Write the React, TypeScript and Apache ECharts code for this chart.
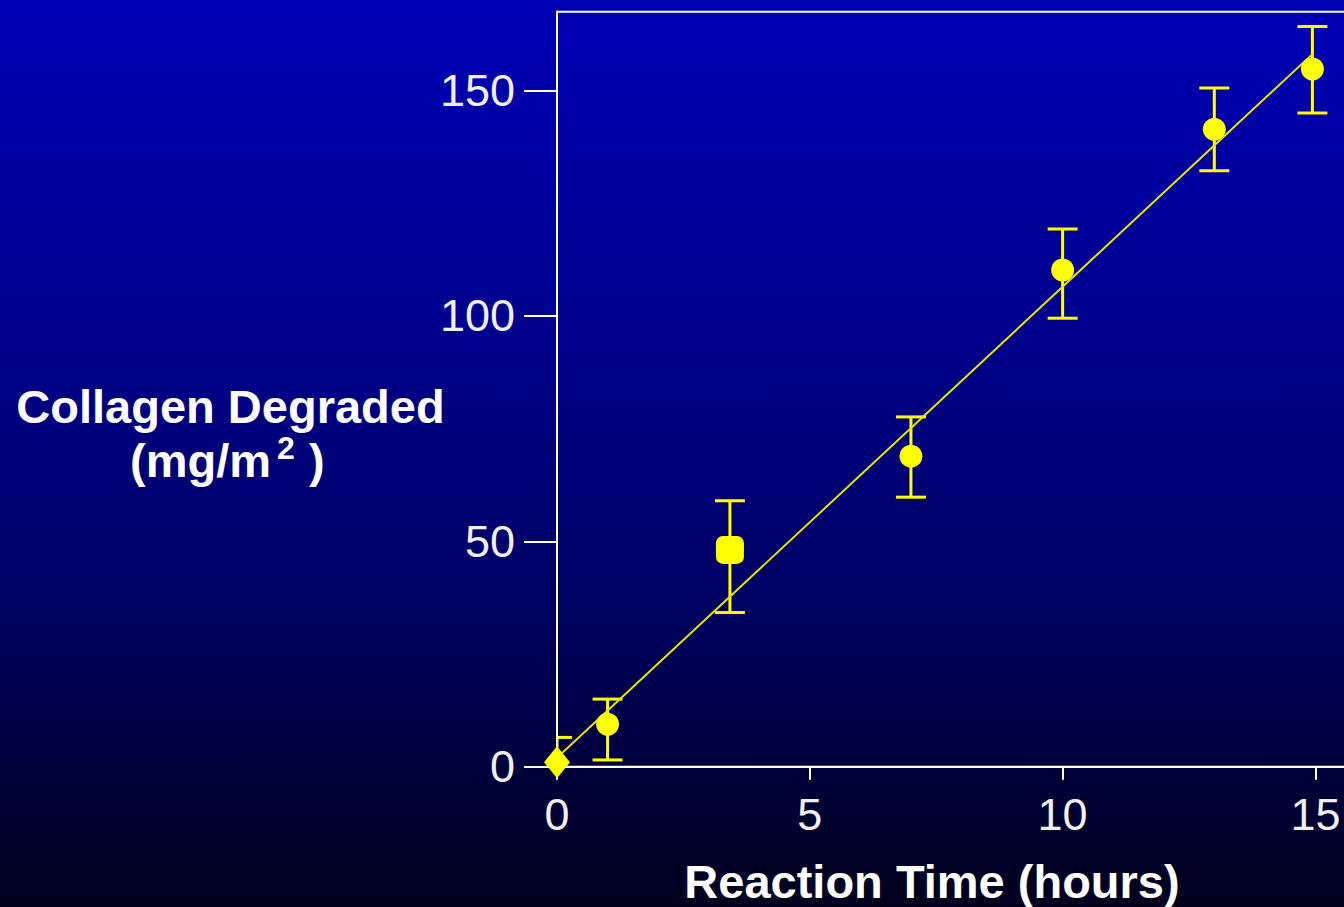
import React, { useEffect, useRef } from "react";
import * as echarts from "echarts";

// Data
const hours = [0, 1, 3.42, 7, 10, 13, 14.94];
const collagen = [1.0, 9.4, 48.1, 68.9, 110.2, 141.4, 154.8];
const errUpper = [6.5, 15.0, 59.0, 77.6, 119.3, 150.6, 164.2];
const errLower = [-4.5, 1.5, 34.2, 59.8, 99.5, 132.2, 145.0];
const fitHours = [0, 14.95];
const fitValues = [2.0, 158.2];
const xTickValues = [0, 5, 10, 15];
const yTickValues = [0, 50, 100, 150];

const markerShapes = ["diamond", "circle", "roundRect", "circle", "circle", "circle", "circle"];
const markerSizes: any[] = [[26, 32], 23, 28, 23, 23, 23, 23];

const FONT = "'Liberation Sans', Arial, Helvetica, sans-serif";
const YELLOW = "#ffff00";

export default function App() {
  const ref = useRef<HTMLDivElement>(null);

  useEffect(() => {
    if (!ref.current) return;
    const chart = echarts.init(ref.current, undefined, { renderer: "svg" });

    const scatterData = hours.map((h, i) => ({
      value: [h, collagen[i]],
      symbol: markerShapes[i],
      symbolSize: markerSizes[i],
    }));
    const errData = hours.map((h, i) => [h, errLower[i], errUpper[i]]);
    const fitData = fitHours.map((h, i) => [h, fitValues[i]]);

    const option: any = {
      animation: false,
      backgroundColor: {
        type: "linear",
        x: 0,
        y: 0,
        x2: 0,
        y2: 1,
        colorStops: [
          { offset: 0, color: "#0000b6" },
          { offset: 0.35, color: "#00008e" },
          { offset: 0.65, color: "#000064" },
          { offset: 1, color: "#00001c" },
        ],
      },
      grid: {
        left: 557,
        top: 11.7,
        width: 809,
        height: 755,
        show: true,
        borderColor: "#ffffff",
        borderWidth: 2,
        backgroundColor: "transparent",
      },
      xAxis: {
        type: "value",
        min: 0,
        max: 16,
        interval: 5,
        axisLine: { show: true, onZero: false, lineStyle: { color: "#ffffff", width: 2 } },
        axisTick: {
          show: true,
          inside: false,
          length: 13,
          customValues: xTickValues,
          lineStyle: { color: "#ffffff", width: 2 },
        },
        axisLabel: {
          margin: 25,
          color: "#f0f0f4",
          fontSize: 45,
          fontFamily: FONT,
          customValues: xTickValues,
        },
        splitLine: { show: false },
      },
      yAxis: {
        type: "value",
        min: 0,
        max: 167.5,
        interval: 50,
        axisLine: { show: true, onZero: false, lineStyle: { color: "#ffffff", width: 2 } },
        axisTick: {
          show: true,
          inside: false,
          length: 33,
          customValues: yTickValues,
          lineStyle: { color: "#ffffff", width: 2 },
        },
        axisLabel: {
          margin: 42,
          color: "#f0f0f4",
          fontSize: 45,
          fontFamily: FONT,
          customValues: yTickValues,
        },
        splitLine: { show: false },
      },
      series: [
        {
          type: "custom",
          clip: true,
          z: 3,
          data: errData,
          renderItem: (params: any, api: any) => {
            const x = api.value(0);
            const lo = api.value(1);
            const hi = api.value(2);
            const pHi = api.coord([x, hi]);
            const pLo = api.coord([x, lo]);
            const w = 15;
            const style = { stroke: YELLOW, lineWidth: 3 };
            return {
              type: "group",
              children: [
                { type: "line", shape: { x1: pHi[0], y1: pHi[1], x2: pLo[0], y2: pLo[1] }, style },
                { type: "line", shape: { x1: pHi[0] - w, y1: pHi[1], x2: pHi[0] + w, y2: pHi[1] }, style },
                { type: "line", shape: { x1: pLo[0] - w, y1: pLo[1], x2: pLo[0] + w, y2: pLo[1] }, style },
              ],
            };
          },
        },
        {
          type: "line",
          z: 4,
          data: fitData,
          symbol: "none",
          lineStyle: { color: "#e6e600", width: 2 },
        },
        {
          type: "scatter",
          z: 5,
          clip: false,
          data: scatterData,
          itemStyle: { color: YELLOW, opacity: 1 },
        },
      ],
      graphic: [
        {
          type: "text",
          x: 230.5,
          y: 406,
          style: {
            text: "Collagen Degraded",
            fill: "#ffffff",
            font: `bold 47px ${FONT}`,
            textAlign: "center",
            textVerticalAlign: "middle",
          },
        },
        {
          type: "text",
          x: 271,
          y: 460,
          style: {
            text: "(mg/m",
            fill: "#ffffff",
            font: `bold 47px ${FONT}`,
            textAlign: "right",
            textVerticalAlign: "middle",
          },
        },
        {
          type: "text",
          x: 277,
          y: 448,
          style: {
            text: "2",
            fill: "#ffffff",
            font: `bold 32px ${FONT}`,
            textAlign: "left",
            textVerticalAlign: "middle",
          },
        },
        {
          type: "text",
          x: 309,
          y: 460,
          style: {
            text: ")",
            fill: "#ffffff",
            font: `bold 47px ${FONT}`,
            textAlign: "left",
            textVerticalAlign: "middle",
          },
        },
        {
          type: "text",
          x: 932,
          y: 881,
          style: {
            text: "Reaction Time (hours)",
            fill: "#ffffff",
            font: `bold 47px ${FONT}`,
            textAlign: "center",
            textVerticalAlign: "middle",
          },
        },
      ],
    };

    chart.setOption(option);
    return () => {
      chart.dispose();
    };
  }, []);

  return (
    <div
      style={{
        position: "fixed",
        left: 0,
        top: 0,
        width: 1344,
        height: 907,
        overflow: "hidden",
        background: "#000040",
      }}
    >
      <div ref={ref} style={{ width: 1400, height: 907 }} />
    </div>
  );
}
